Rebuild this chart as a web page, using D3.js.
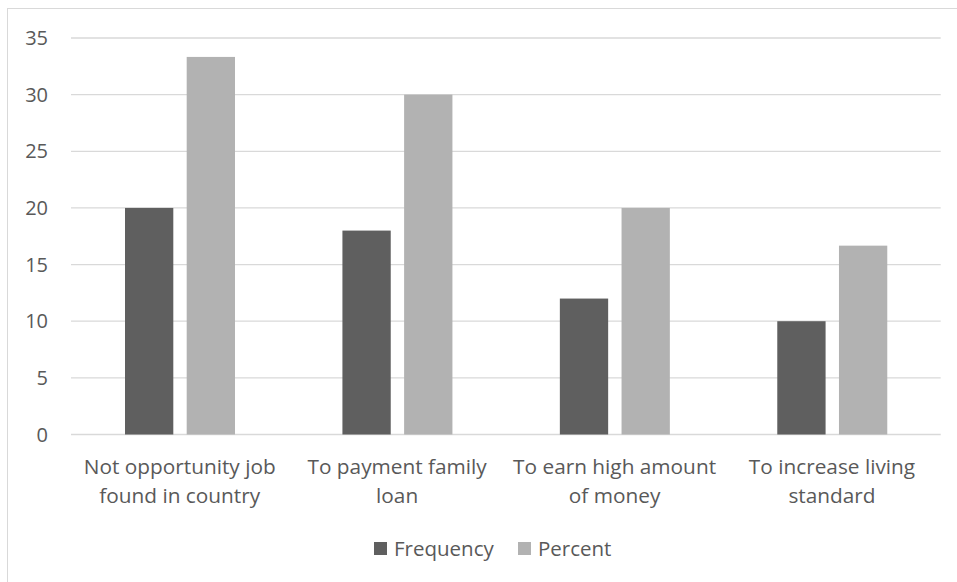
<!DOCTYPE html>
<html><head><meta charset="utf-8">
<script src="https://cdn.jsdelivr.net/npm/d3@7"></script>
<style>body{margin:0;background:#fff}svg{display:block}text{font-family:"Open Sans","Liberation Sans",Arial,sans-serif;fill:#595959}</style>
</head><body><svg id="c" width="957" height="582"></svg>
<script>
const categories = [["Not opportunity job","found in country"],["To payment family","loan"],["To earn high amount","of money"],["To increase living","standard"]];
const seriesNames = ["Frequency","Percent"];
const frequency = [20,18,12,10];
const percent = [33.33,30,20,16.67];
const yTicks = [0,5,10,15,20,25,30,35];
const colors = {Frequency:"#5f5f5f", Percent:"#b2b2b2"};

(function(){
const svg = d3.select("#c");
svg.append("rect").attr("x",7.5).attr("y",8.5).attr("width",1000).attr("height",1000)
  .attr("fill","#fff").attr("stroke","#d9d9d9");

const pl=71, pr=940.7, pt=38, pb=434.5;
const y = d3.scaleLinear().domain([0,35]).range([pb,pt]);
const x0 = d3.scaleBand().domain(d3.range(categories.length)).range([pl,pr]).padding(0);
const x1 = d3.scaleBand().domain(seriesNames).range([54,164]).paddingInner(0.217).paddingOuter(0);

svg.append("g").selectAll("line").data(yTicks).join("line")
  .attr("x1",pl).attr("x2",pr).attr("y1",d=>y(d)).attr("y2",d=>y(d))
  .attr("stroke","#d9d9d9").attr("stroke-width",1.3);

svg.append("g").selectAll("text").data(yTicks).join("text")
  .attr("x",48).attr("y",d=>y(d)).attr("dy","0.35em").attr("text-anchor","end")
  .attr("font-size",20).text(d=>d);

const data = categories.map((c,i)=>({i, vals:[{k:"Frequency",v:frequency[i]},{k:"Percent",v:percent[i]}]}));
const g = svg.append("g").selectAll("g").data(data).join("g")
  .attr("transform",d=>`translate(${x0(d.i)},0)`);
g.selectAll("rect").data(d=>d.vals).join("rect")
  .attr("x",d=>x1(d.k)).attr("width",x1.bandwidth())
  .attr("y",d=>y(d.v)).attr("height",d=>y(0)-y(d.v)).attr("fill",d=>colors[d.k]);

const lab = svg.append("g").selectAll("text").data(categories).join("text")
  .attr("text-anchor","middle").attr("font-size",20.8)
  .attr("transform",(d,i)=>`translate(${x0(i)+x0.bandwidth()/2},0)`);
lab.selectAll("tspan").data(d=>d).join("tspan")
  .attr("x",0).attr("y",(d,j)=>474+j*29).text(d=>d);

const legX = [374,518];
const leg = svg.append("g").selectAll("g").data(seriesNames).join("g")
  .attr("transform",(d,i)=>`translate(${legX[i]},0)`);
leg.append("rect").attr("x",0).attr("y",542).attr("width",13).attr("height",13).attr("fill",d=>colors[d]);
leg.append("text").attr("x",20).attr("y",556).attr("font-size",20.5).text(d=>d);
})();
</script></body></html>
